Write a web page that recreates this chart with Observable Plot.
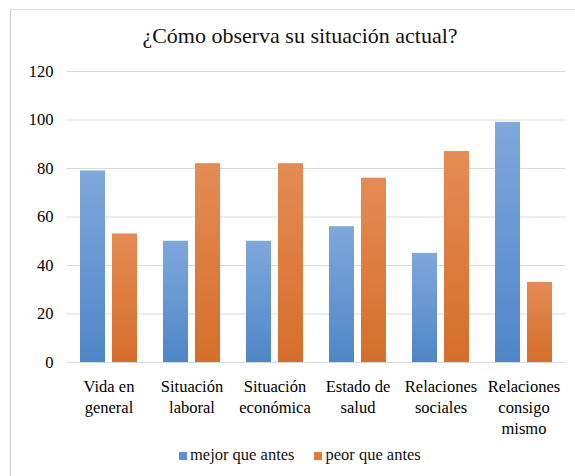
<!DOCTYPE html>
<html><head><meta charset="utf-8">
<script src="https://cdn.jsdelivr.net/npm/d3@7"></script>
<script src="https://cdn.jsdelivr.net/npm/@observablehq/plot@0.6"></script>
<style>
body{margin:0;background:#fff;font-family:"Liberation Serif",Tinos,"Times New Roman",Times,"DejaVu Serif",serif;}
#wrap{position:relative;width:575px;height:476px;overflow:hidden;background:#fff}
#frame{position:absolute;left:10px;top:9px;width:600px;height:500px;border-left:1px solid #c8c8c8;border-top:1px solid #e2e2e2;}
#title{position:absolute;top:23px;left:0;width:600px;text-align:center;font-size:22px;line-height:26px;color:#111}
#chart{position:absolute;left:0;top:60px}
#legend{position:absolute;top:442px;left:179px;font-size:16.5px;line-height:26px;color:#111;white-space:nowrap}
#legend span.sw{display:inline-block;width:8px;height:8px;margin-right:3px;vertical-align:0px}
</style>
</head><body>
<div id="wrap">
<div id="frame"></div>
<div id="title">¿Cómo observa su situación actual?</div>
<div id="chart"></div>
<div id="legend"></div>
</div>
<script>
const categories = ["Vida en general","Situación laboral","Situación económica","Estado de salud","Relaciones sociales","Relaciones consigo mismo"];
const tickLabels = ["Vida en\ngeneral","Situación\nlaboral","Situación\neconómica","Estado de\nsalud","Relaciones\nsociales","Relaciones\nconsigo\nmismo"];
const series = ["mejor que antes","peor que antes"];
const mejor = [79,50,50,56,45,99];
const peor = [53,82,82,76,87,33];
const yTicks = [0,20,40,60,80,100,120];
const legendColors = ["#5b8fd0","#e07a3a"];
const serifFont = '"Liberation Serif",Tinos,"Times New Roman",Times,"DejaVu Serif",serif';

const data = categories.flatMap((c,i)=>[
  {category:c, series:series[0], value:mejor[i]},
  {category:c, series:series[1], value:peor[i]}
]);

const chart = Plot.plot({
  width:575, height:380, marginTop:11, marginBottom:78, marginLeft:64, marginRight:8,
  style:{fontFamily:serifFont, fontSize:"16.5px", color:"#000", background:"transparent"},
  fx:{domain:categories, padding:0, label:null},
  x:{domain:series, paddingInner:0.21, paddingOuter:0.38, axis:null},
  y:{domain:[0,120], label:null},
  color:{domain:series, range:["url(#gBlue)","url(#gOrange)"]},
  marks:[
    Plot.gridY(yTicks,{stroke:"#d9d9d9", strokeOpacity:1}),
    Plot.axisY(yTicks,{tickSize:0, tickPadding:14, label:null, fontFamily:serifFont}),
    Plot.axisFx({anchor:"bottom", tickSize:0, tickPadding:15, lineHeight:1.27, label:null, fontFamily:serifFont,
      tickFormat:(d)=>tickLabels[categories.indexOf(d)]}),
    Plot.barY(data,{fx:"category", x:"series", y:"value", fill:"series"}),
    Plot.ruleY([0],{stroke:"#d9d9d9"})
  ]
});

const svg = d3.select(chart);
const defs = svg.insert("defs",":first-child");
function grad(id, top, bottom){
  const g = defs.append("linearGradient").attr("id",id).attr("x1",0).attr("y1",0).attr("x2",0).attr("y2",1);
  g.append("stop").attr("offset","0%").attr("stop-color",top);
  g.append("stop").attr("offset","100%").attr("stop-color",bottom);
}
grad("gBlue","#7fa8dc","#4f86c7");
grad("gOrange","#e48c55","#d56e2a");
document.getElementById("chart").appendChild(chart);

const legend = d3.select("#legend");
series.forEach((s,i)=>{
  const item = legend.append("span").style("margin-right", i===0 ? "20px" : "0px");
  item.append("span").attr("class","sw").style("background", legendColors[i]);
  item.append("span").text(s);
});
</script>
</body></html>
